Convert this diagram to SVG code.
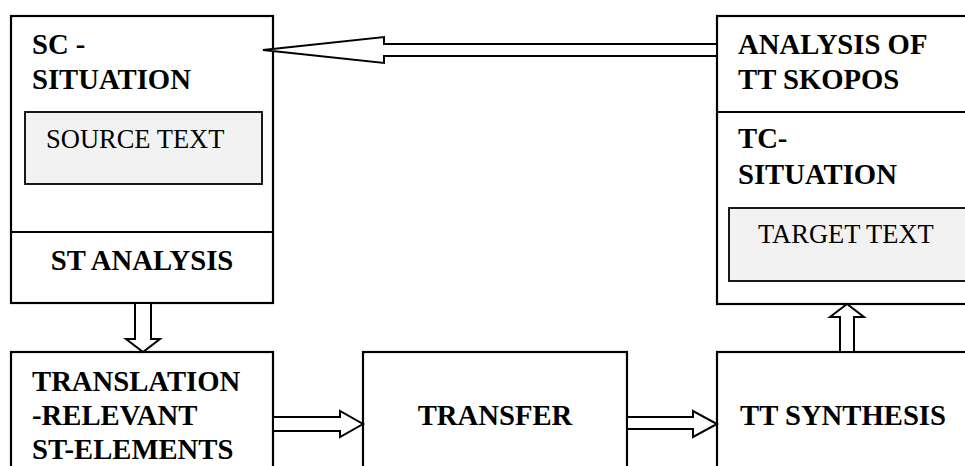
<svg xmlns="http://www.w3.org/2000/svg" width="965" height="466" viewBox="0 0 965 466">
<style>
.box{fill:#fff;stroke:#000;stroke-width:2.2}
.inner{fill:#f2f2f2;stroke:#000;stroke-width:1.8}
.div{stroke:#000;stroke-width:2.2}
.b{font-family:"Liberation Serif","Times New Roman",serif;font-weight:bold;font-size:28.7px;fill:#000}
.r{font-family:"Liberation Serif","Times New Roman",serif;font-size:26.5px;fill:#000}
.arr{fill:#fff;stroke:#000;stroke-width:2;stroke-linejoin:miter}
</style>
<rect width="965" height="466" fill="#fff"/>
<g id="sc-situation">
<rect class="box" x="11" y="16" width="262" height="287"/>
<line class="div" x1="11" y1="232" x2="273" y2="232"/>
<text class="b" x="32" y="54">SC -</text>
<text class="b" x="32" y="89">SITUATION</text>
<g id="source-text">
<rect class="inner" x="25" y="112" width="237" height="72"/>
<text class="r" x="46" y="148">SOURCE TEXT</text>
</g>
<text class="b" x="142" y="270" text-anchor="middle">ST ANALYSIS</text>
</g>
<g id="tc-situation">
<rect class="box" x="717" y="16" width="260" height="288"/>
<line class="div" x1="717" y1="112" x2="977" y2="112"/>
<text class="b" x="738" y="54">ANALYSIS OF</text>
<text class="b" x="738" y="89">TT SKOPOS</text>
<text class="b" x="738" y="148">TC-</text>
<text class="b" x="738" y="184">SITUATION</text>
<g id="target-text">
<rect class="inner" x="729" y="208" width="248" height="73"/>
<text class="r" x="758" y="243">TARGET TEXT</text>
</g>
</g>
<g id="translation-relevant">
<rect class="box" x="11" y="352" width="262" height="130"/>
<text class="b" x="32" y="391">TRANSLATION</text>
<text class="b" x="32" y="425">-RELEVANT</text>
<text class="b" x="32" y="459">ST-ELEMENTS</text>
</g>
<g id="transfer">
<rect class="box" x="363" y="352" width="264" height="130"/>
<text class="b" x="495" y="425" text-anchor="middle">TRANSFER</text>
</g>
<g id="tt-synthesis">
<rect class="box" x="717" y="352" width="260" height="130"/>
<text class="b" x="740" y="425">TT SYNTHESIS</text>
</g>
<g id="connectors">
<polygon class="arr" points="717,44 384,44 384,37 263,50 384,63 384,56 717,56"/>
<polygon class="arr" points="135,303 135,339 126,339 143,352 160,339 151,339 151,303"/>
<polygon class="arr" points="273,417 340,417 340,411 363,424 340,437 340,431 273,431"/>
<polygon class="arr" points="627,417 693,417 693,411 717,424 693,437 693,429 627,429"/>
<polygon class="arr" points="840,352 840,317 830,317 847,304 864,317 854,317 854,352"/>
</g>
</svg>
